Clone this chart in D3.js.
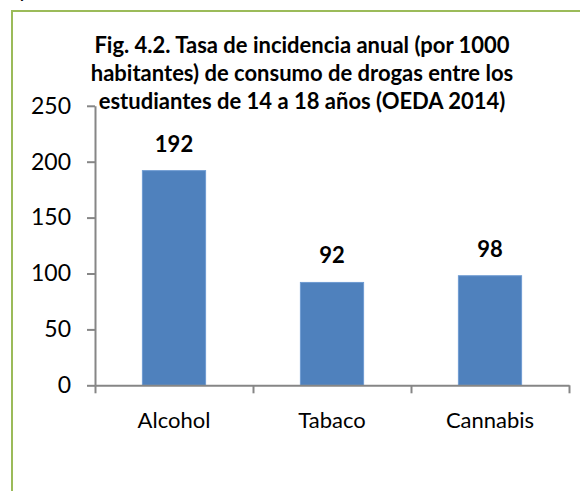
<!DOCTYPE html>
<html>
<head>
<meta charset="utf-8">
<script src="https://cdn.jsdelivr.net/npm/d3@7"></script>
<style>
  body { margin: 0; background: #fff; }
  text { font-family: Lato, "Open Sans", sans-serif; fill: #000; }
</style>
</head>
<body>
<div id="chart"></div>
<script>
// chart data
var categories = ["Alcohol", "Tabaco", "Cannabis"];
var values = [192, 92, 98];
var yTicks = [0, 50, 100, 150, 200, 250];
var titleLines = [
    "Fig. 4.2. Tasa de incidencia anual (por 1000",
    "habitantes) de consumo de drogas entre los",
    "estudiantes de 14 a 18 años (OEDA 2014)"
];

var svgWidth = 580;
var svgHeight = 491;

var svg = d3.select("#chart")
    .append("svg")
    .attr("width", svgWidth)
    .attr("height", svgHeight);

// bit of text from the page above the chart
svg.append("text")
    .attr("x", 18)
    .attr("y", -3)
    .style("font-size", "22px")
    .text("y");

// green frame round the chart (runs off the right and bottom)
svg.append("rect")
    .attr("x", 12)
    .attr("y", 11)
    .attr("width", 620)
    .attr("height", 520)
    .attr("fill", "none")
    .attr("stroke", "#9bbb59")
    .attr("stroke-width", 2);

// plot area
var plot = { left: 95, right: 569, top: 105.8, bottom: 385.3 };

var xScale = d3.scaleBand()
    .domain(categories)
    .range([plot.left, plot.right])
    .paddingInner(0.6)
    .paddingOuter(0.3);

var yScale = d3.scaleLinear()
    .domain([0, 250])
    .range([plot.bottom, plot.top]);

// slot boundaries for the x tick marks
var slotScale = d3.scaleLinear()
    .domain([0, categories.length])
    .range([plot.left, plot.right]);

// title
svg.append("g")
    .selectAll("text")
    .data(titleLines)
    .enter()
    .append("text")
    .attr("x", 302)
    .attr("y", (d, i) => 53 + i * 28)
    .attr("text-anchor", "middle")
    .style("font-size", "22px")
    .style("font-weight", "bold")
    .text(d => d);

// bars
svg.selectAll(".bar")
    .data(values)
    .enter()
    .append("rect")
    .attr("class", "bar")
    .attr("x", (d, i) => xScale(categories[i]))
    .attr("y", d => yScale(d))
    .attr("width", xScale.bandwidth())
    .attr("height", d => yScale(0) - yScale(d))
    .attr("fill", "#4f81bd")
    .attr("stroke", "#6e9bd2")
    .attr("stroke-width", 1);

// value labels
svg.selectAll(".valueLabel")
    .data(values)
    .enter()
    .append("text")
    .attr("class", "valueLabel")
    .attr("x", (d, i) => xScale(categories[i]) + xScale.bandwidth() / 2)
    .attr("y", d => yScale(d) - 19)
    .attr("text-anchor", "middle")
    .style("font-size", "22px")
    .style("font-weight", "bold")
    .text(d => d);

// y axis
var leftAxis = d3.axisLeft(yScale)
    .tickValues(yTicks)
    .tickSize(8)
    .tickPadding(16)
    .tickSizeOuter(0);

var yAxis = svg.append("g")
    .attr("transform", `translate(${plot.left}, 0)`)
    .call(leftAxis);

yAxis.selectAll("text")
    .style("font-size", "23px")
    .style("font-family", "Lato, sans-serif")
    .attr("fill", "#000");

// x axis with marks between categories
var bottomAxis = d3.axisBottom(slotScale)
    .tickValues(d3.range(categories.length + 1))
    .tickSize(8)
    .tickSizeOuter(0)
    .tickFormat("");

svg.append("g")
    .attr("transform", `translate(0, ${plot.bottom})`)
    .call(bottomAxis);

svg.selectAll(".domain, .tick line")
    .attr("stroke", "#868686")
    .attr("stroke-width", 2);

// category labels
svg.selectAll(".catLabel")
    .data(categories)
    .enter()
    .append("text")
    .attr("class", "catLabel")
    .attr("x", d => xScale(d) + xScale.bandwidth() / 2)
    .attr("y", 428)
    .attr("text-anchor", "middle")
    .style("font-size", "22px")
    .text(d => d);
</script>
</body>
</html>
